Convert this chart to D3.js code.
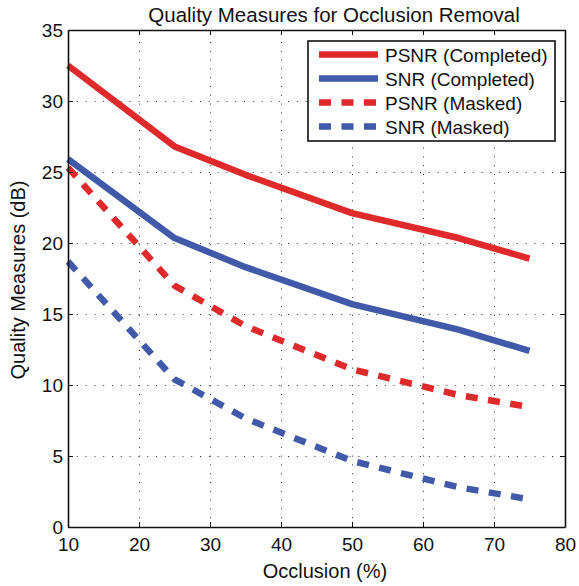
<!DOCTYPE html>
<html>
<head>
<meta charset="utf-8">
<script src="https://cdn.jsdelivr.net/npm/d3@7"></script>
<style>
  body { margin: 0; background: #fff; }
  svg text { font-family: "Liberation Sans", Arial, Helvetica, sans-serif; fill: #111; }
  .axis path, .axis line { stroke: #111; }
  .grid line { stroke: #333; stroke-dasharray: 1,7.8; }
  .grid path { display: none; }
</style>
</head>
<body>
<svg id="chart" width="579" height="586"></svg>
<script>
// values
var occlusion     = [10, 25, 35, 50, 65, 75];
var psnrCompleted = [32.5, 26.8, 24.8, 22.1, 20.35, 18.9];
var snrCompleted  = [25.9, 20.35, 18.3, 15.7, 13.9, 12.4];
var psnrMasked    = [25.3, 17.0, 14.15, 11.1, 9.3, 8.45];
var snrMasked     = [18.7, 10.4, 7.65, 4.65, 2.8, 1.95];

var xTicks = [10, 20, 30, 40, 50, 60, 70, 80];
var yTicks = [0, 5, 10, 15, 20, 25, 30, 35];

var seriesNames = ["PSNR (Completed)", "SNR (Completed)", "PSNR (Masked)", "SNR (Masked)"];
var seriesData  = [psnrCompleted, snrCompleted, psnrMasked, snrMasked];

var red = "#e0292b", blue = "#4059a9";
var styles = [
    {color: red,  dash: null},
    {color: blue, dash: null},
    {color: red,  dash: "12,10.5"},
    {color: blue, dash: "12,10.5"}
];

// plot box in page pixels
var plotLeft = 68, plotRight = 565, plotTop = 30, plotBottom = 527;
var width = plotRight - plotLeft, height = plotBottom - plotTop;

var svg = d3.select("#chart");

var x = d3.scaleLinear().domain([10, 80]).range([0, width]);
var y = d3.scaleLinear().domain([0, 35]).range([height, 0]);

var g = svg.append("g").attr("transform", "translate(" + plotLeft + "," + plotTop + ")");

// dotted grid
g.append("g")
    .attr("class", "grid")
    .attr("transform", "translate(0," + height + ")")
    .call(d3.axisBottom(x).tickValues(xTicks.slice(1, -1)).tickSize(-height).tickFormat(""));
g.append("g")
    .attr("class", "grid")
    .call(d3.axisLeft(y).tickValues(yTicks.slice(1, -1)).tickSize(-width).tickFormat(""));

// data lines
var line = d3.line()
    .x(function(d, i) { return x(occlusion[i]); })
    .y(function(d) { return y(d); });

seriesData.forEach(function(s, k) {
    g.append("path")
        .datum(s)
        .attr("d", line)
        .attr("fill", "none")
        .attr("stroke", styles[k].color)
        .attr("stroke-width", 6.5)
        .attr("stroke-linejoin", "round")
        .attr("stroke-dasharray", styles[k].dash);
});

// axes with inward ticks on all four sides
g.append("g")
    .attr("class", "axis")
    .attr("transform", "translate(0," + height + ")")
    .call(d3.axisBottom(x).tickValues(xTicks).tickSize(-5).tickPadding(10.5).tickSizeOuter(0))
    .selectAll("text").style("font-size", "19px");
g.append("g")
    .attr("class", "axis")
    .call(d3.axisLeft(y).tickValues(yTicks).tickSize(-5).tickPadding(5).tickSizeOuter(0))
    .selectAll("text").style("font-size", "19px");
g.append("g")
    .attr("class", "axis")
    .call(d3.axisTop(x).tickValues(xTicks).tickSize(-5).tickFormat("").tickSizeOuter(0));
g.append("g")
    .attr("class", "axis")
    .attr("transform", "translate(" + width + ",0)")
    .call(d3.axisRight(y).tickValues(yTicks).tickSize(-5).tickFormat("").tickSizeOuter(0));

g.selectAll(".axis path").attr("stroke-width", 1.6);
g.selectAll(".axis line").attr("stroke-width", 1);

// legend
var legend = svg.append("g").attr("transform", "translate(308,41)");
legend.append("rect")
    .attr("width", 247).attr("height", 100)
    .attr("fill", "#fff").attr("stroke", "#111").attr("stroke-width", 1.6);

seriesNames.forEach(function(name, k) {
    var rowY = 13.5 + k * 24;
    legend.append("line")
        .attr("x1", 11).attr("x2", 70)
        .attr("y1", rowY).attr("y2", rowY)
        .attr("stroke", styles[k].color)
        .attr("stroke-width", 6.5)
        .attr("stroke-dasharray", styles[k].dash);
    legend.append("text")
        .attr("x", 77).attr("y", rowY + 7)
        .style("font-size", "19px")
        .text(name);
});

// title and axis labels
svg.append("text")
    .attr("x", 334).attr("y", 22)
    .attr("text-anchor", "middle")
    .style("font-size", "20.5px")
    .text("Quality Measures for Occlusion Removal");

svg.append("text")
    .attr("x", 325).attr("y", 578)
    .attr("text-anchor", "middle")
    .style("font-size", "20px")
    .text("Occlusion (%)");

svg.append("text")
    .attr("transform", "translate(25,280) rotate(-90)")
    .attr("text-anchor", "middle")
    .style("font-size", "20px")
    .text("Quality Measures (dB)");
</script>
</body>
</html>
